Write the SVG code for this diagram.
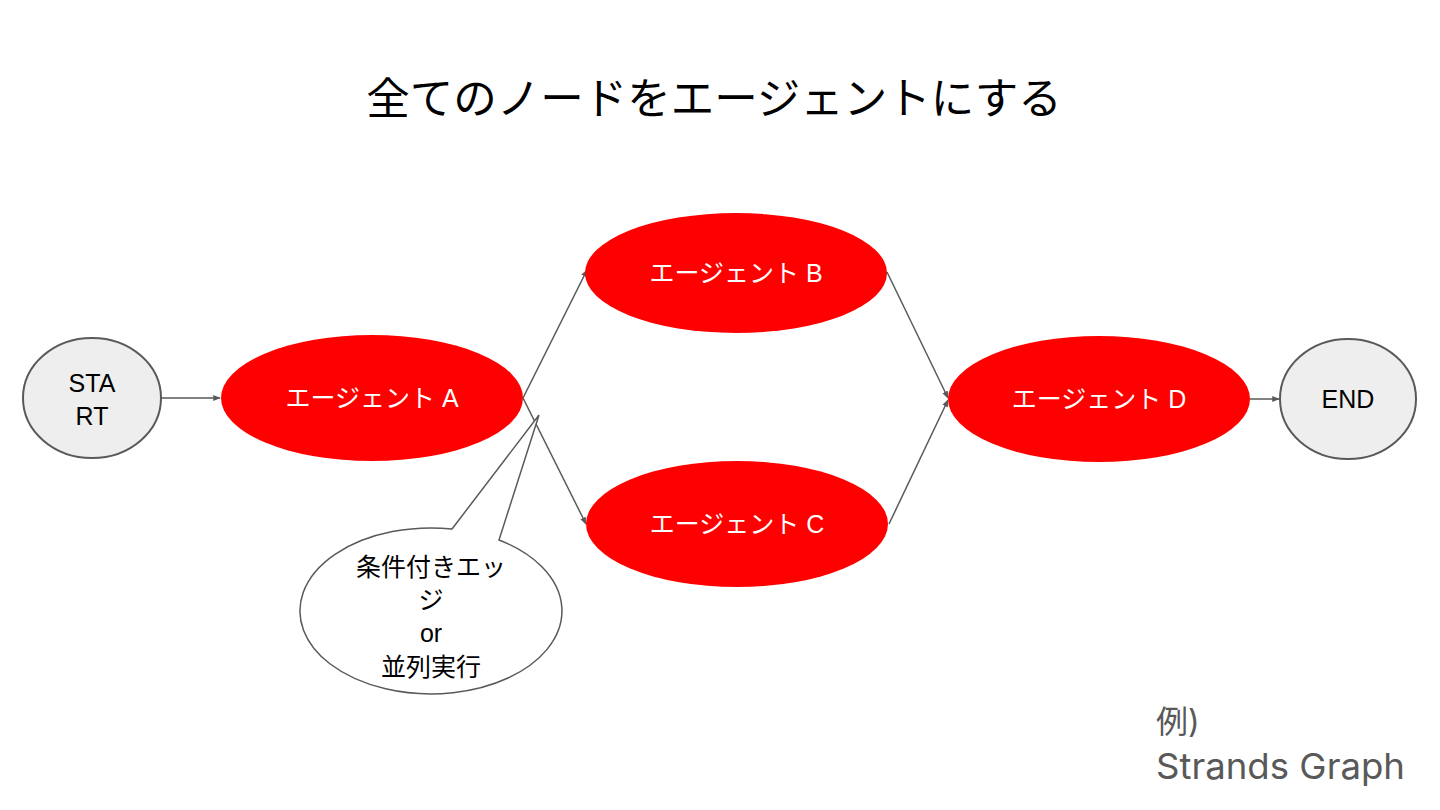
<svg xmlns="http://www.w3.org/2000/svg" width="1440" height="810" viewBox="0 0 1440 810">
<defs>
<style>
.agent{fill:#ff0000;stroke:none}
.term{fill:#eeeeee;stroke:#595959;stroke-width:2}
.lbl{font-family:"Liberation Sans","Noto Sans CJK JP",sans-serif;font-size:25px;text-anchor:middle}
.w{fill:#ffffff}
.k{fill:#000000}
.edge{stroke:#595959;stroke-width:1.5;fill:none;marker-end:url(#arr)}
</style>
<marker id="arr" viewBox="0 0 10 10" refX="9" refY="5" markerWidth="5" markerHeight="5" orient="auto" markerUnits="strokeWidth">
<path d="M0,1 L10,5 L0,9 z" fill="#595959"/>
</marker>
</defs>
<rect width="1440" height="810" fill="#ffffff"/>
<text x="714" y="114" font-family="Liberation Sans,'Noto Sans CJK JP',sans-serif" font-size="43.5" text-anchor="middle" fill="#000">全てのノードをエージェントにする</text>
<g id="connectors">
<line class="edge" x1="161" y1="398" x2="220" y2="398"/>
<line class="edge" x1="523" y1="398" x2="587" y2="270"/>
<line class="edge" x1="523" y1="398" x2="586" y2="524"/>
<line class="edge" x1="887" y1="272" x2="948" y2="398"/>
<line class="edge" x1="889" y1="524" x2="948" y2="400"/>
<line class="edge" x1="1250" y1="399" x2="1279" y2="399"/>
</g>
<g id="node-start">
<ellipse class="term" cx="92" cy="398" rx="69" ry="60"/>
<text class="lbl k" x="92" y="392">STA</text>
<text class="lbl k" x="92" y="425">RT</text>
</g>
<g id="node-a">
<ellipse class="agent" cx="372" cy="398" rx="151" ry="63"/>
<text class="lbl w" x="372" y="407">エージェント A</text>
</g>
<g id="node-b">
<ellipse class="agent" cx="736" cy="273" rx="151" ry="60"/>
<text class="lbl w" x="736" y="282">エージェント B</text>
</g>
<g id="node-c">
<ellipse class="agent" cx="737" cy="524" rx="151" ry="63"/>
<text class="lbl w" x="737" y="533">エージェント C</text>
</g>
<g id="node-d">
<ellipse class="agent" cx="1099" cy="399" rx="151" ry="63"/>
<text class="lbl w" x="1099" y="408">エージェント D</text>
</g>
<g id="node-end">
<ellipse class="term" cx="1348" cy="399" rx="68" ry="60"/>
<text class="lbl k" x="1348" y="408">END</text>
</g>
<g id="callout">
<path d="M452,529 L539,415 L499,540 A131,83 0 1 1 452,529 Z" fill="#ffffff" stroke="#595959" stroke-width="1.5" stroke-linejoin="miter"/>
<text class="lbl k" x="431" y="576">条件付きエッ</text>
<text class="lbl k" x="431" y="609">ジ</text>
<text class="lbl k" x="431" y="642">or</text>
<text class="lbl k" x="431" y="676">並列実行</text>
</g>
<g id="note">
<text x="1156" y="733" font-family="Inter,'Noto Sans CJK JP',sans-serif" font-size="32" fill="#595959">例)</text>
<text x="1156" y="779" font-family="Inter,'Noto Sans CJK JP',sans-serif" font-size="36" fill="#595959" textLength="249" lengthAdjust="spacingAndGlyphs">Strands Graph</text>
</g>
</svg>
